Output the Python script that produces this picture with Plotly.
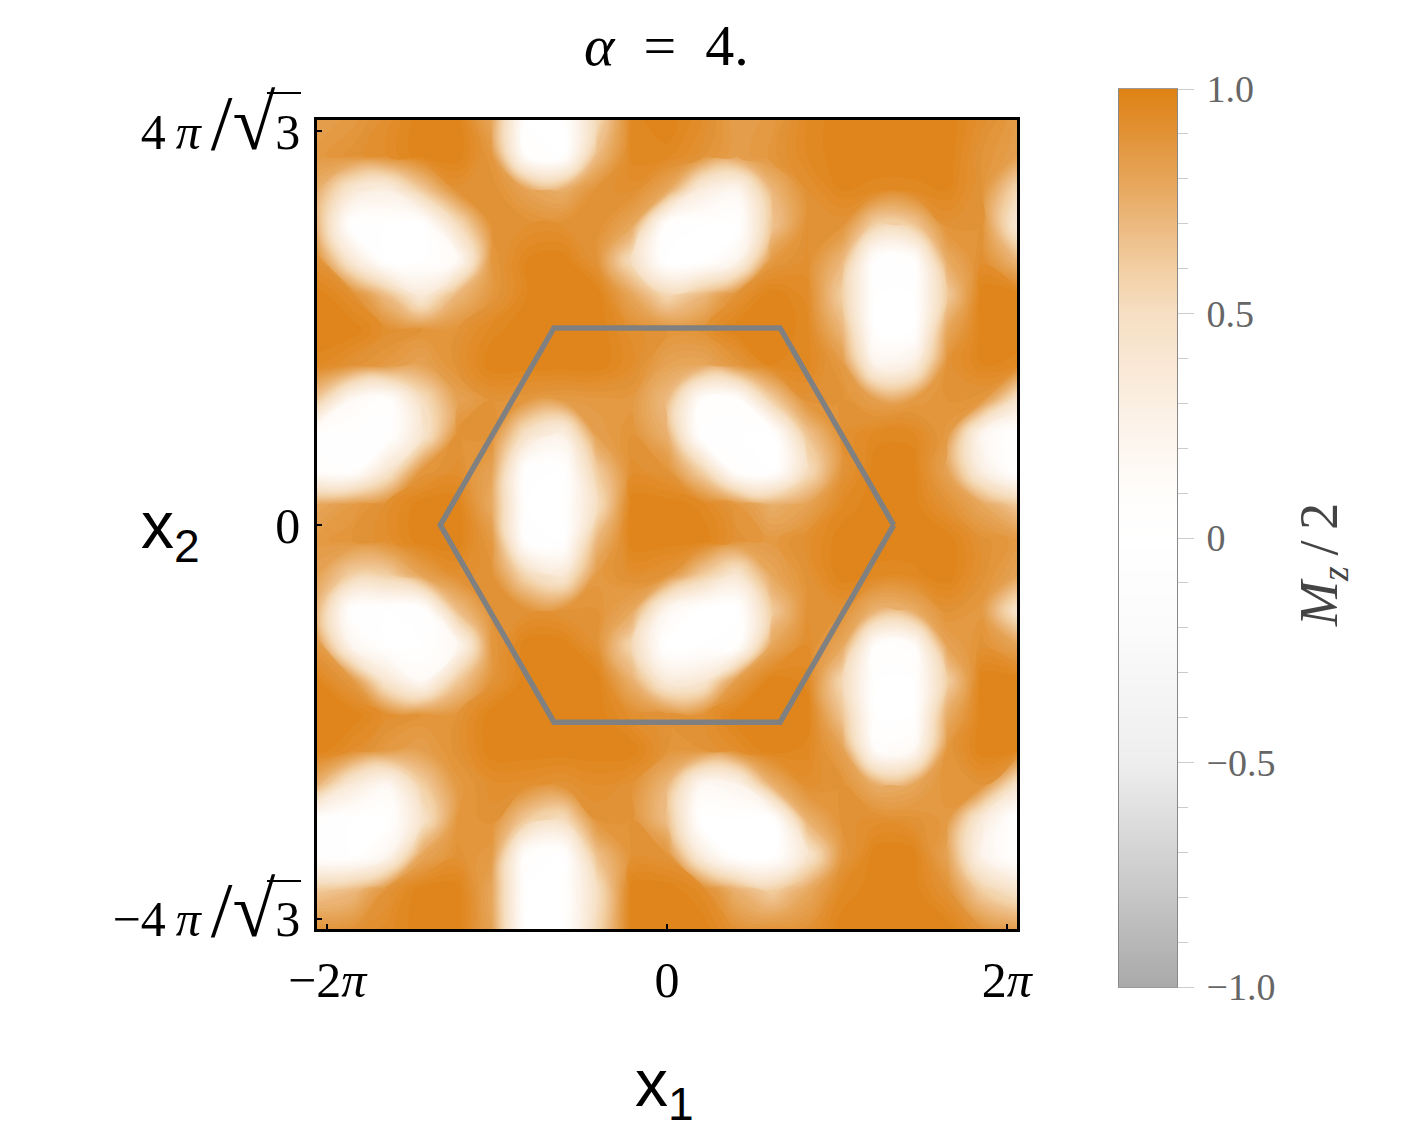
"""Magnetisation map M_z/2 at alpha = 4 with the hexagonal cell on top."""

import plotly.graph_objects as go

W, H = 1424, 1137

# grid positions of the map, in units of x1 and x2
x_grid = [-6.47, -5.82, -5.18, -4.53, -3.88, -3.24, -2.59, -1.94, -1.29, -0.65, 0.0,
          0.65, 1.29, 1.94, 2.59, 3.24, 3.88, 4.53, 5.18, 5.82, 6.47]
y_grid = [7.46, 6.81, 6.17, 5.52, 4.88, 4.24, 3.59, 2.95, 2.30, 1.66, 1.01, 0.37,
          -0.28, -0.92, -1.57, -2.21, -2.86, -3.50, -4.14, -4.79, -5.43, -6.08, -6.72, -7.44]

# M_z/2, one row per y_grid entry
mz_rows = [
    [.84, .87, .93, 1.0, 1.0, .80, .02, .02, .55, .97, 1.0, .94, .84, .87, .96, 1.0, 1.0, 1.0, 1.0, .93, .86],
    [.87, .91, .94, 1.0, 1.0, .88, .08, .02, .70, .97, .97, .91, .84, .89, .96, 1.0, 1.0, 1.0, 1.0, .90, .84],
    [.76, .40, .30, .62, .91, .92, .82, .76, .91, .93, .80, .32, .20, .72, .92, .98, .97, .97, .98, .90, .55],
    [.72, .03, .02, .02, .50, .91, .92, .92, .92, .80, .05, .02, .02, .65, .92, .90, .58, .62, .91, .90, .40],
    [.91, .38, .02, .02, .15, .88, .98, 1.0, .90, .50, .02, .02, .22, .87, .93, .72, .03, .05, .78, .93, .72],
    [1.0, .93, .68, .36, .72, .88, .98, 1.0, 1.0, .80, .55, .70, .91, 1.0, .95, .60, .02, .02, .62, 1.0, 1.0],
    [1.0, 1.0, .93, .90, .90, .97, 1.0, 1.0, 1.0, .93, .90, .91, 1.0, 1.0, .97, .72, .02, .02, .80, 1.0, 1.0],
    [.97, .91, .87, .82, .91, 1.0, 1.0, 1.0, 1.0, .94, .82, .80, .88, .98, .97, .87, .24, .30, .91, .98, .97],
    [.62, .15, .05, .50, .82, .90, .88, .86, .87, .87, .70, .08, .06, .60, .91, .90, .84, .86, .90, .88, .45],
    [.02, .02, .02, .42, .90, .91, .45, .27, .84, .90, .75, .02, .02, .02, .65, .92, .97, .97, .87, .20, .02],
    [.06, .04, .40, .88, .93, .82, .03, .02, .62, .93, .90, .58, .05, .02, .50, .90, 1.0, 1.0, .82, .30, .02],
    [.80, .86, .93, 1.0, 1.0, .78, .02, .02, .50, 1.0, 1.0, .97, .88, .76, .82, .96, 1.0, 1.0, .91, .80, .64],
    [.87, .90, .93, 1.0, 1.0, .87, .04, .02, .72, 1.0, 1.0, 1.0, .91, .87, .93, 1.0, 1.0, 1.0, 1.0, .91, .87],
    [.82, .60, .60, .82, .93, .91, .54, .38, .87, .93, .90, .62, .42, .80, .91, 1.0, .97, .97, 1.0, .91, .82],
    [.72, .04, .02, .03, .68, .91, .91, .90, .90, .80, .20, .02, .02, .62, .91, .91, .74, .77, .91, .87, .45],
    [.87, .20, .02, .02, .18, .88, 1.0, 1.0, .91, .55, .02, .02, .05, .80, .94, .80, .08, .10, .82, .91, .82],
    [.98, .87, .40, .15, .62, .90, 1.0, 1.0, 1.0, .75, .35, .38, .85, 1.0, .97, .55, .02, .02, .60, 1.0, 1.0],
    [1.0, 1.0, .93, .90, .90, 1.0, 1.0, 1.0, 1.0, .93, .90, .91, 1.0, 1.0, 1.0, .65, .02, .02, .77, 1.0, 1.0],
    [1.0, .94, .87, .84, .91, 1.0, 1.0, 1.0, 1.0, 1.0, .90, .90, .94, 1.0, .97, .83, .10, .15, .88, 1.0, 1.0],
    [.74, .35, .18, .60, .87, .93, .93, .91, .94, .91, .72, .17, .22, .75, .93, .90, .77, .80, .90, .90, .45],
    [.05, .02, .02, .45, .88, .91, .62, .50, .90, .90, .68, .02, .02, .02, .75, .91, .93, .91, .87, .35, .02],
    [.03, .02, .20, .80, .91, .86, .06, .02, .68, .91, .90, .32, .02, .02, .42, .88, 1.0, 1.0, .82, .25, .02],
    [.63, .69, .90, 1.0, 1.0, .80, .02, .02, .50, 1.0, 1.0, .95, .74, .60, .78, .96, 1.0, 1.0, .91, .60, .44],
    [.90, .91, .95, 1.0, 1.0, .82, .02, .02, .55, 1.0, 1.0, 1.0, .91, .90, .91, 1.0, 1.0, 1.0, 1.0, .90, .84],
]

# hexagonal cell outline
hex_x = [4.19, 2.09, -2.09, -4.19, -2.09, 2.09, 4.19]
hex_y = [0.0, 3.63, 3.63, 0.0, -3.63, -3.63, 0.0]

# axis ticks
BIG = "<span style='font-size:78px'>"
x_ticks = [-6.283, 0, 6.283]
x_tick_labels = ["−2<i>π</i>", "0", "2<i>π</i>"]
y_ticks = [-7.255, 0, 7.255]
y_tick_labels = [
    f"−4\u2009<i>π</i>\u2009{BIG}/√</span>3",
    "0",
    f"4\u2009<i>π</i>\u2009{BIG}/√</span>3",
]

# colour bar
bar_levels = [-1.0, -0.9, -0.8, -0.7, -0.6, -0.5, -0.4, -0.3, -0.2, -0.1, 0.0,
              0.1, 0.2, 0.3, 0.4, 0.5, 0.6, 0.7, 0.8, 0.9, 1.0]
bar_ticks = [-1.0, -0.5, 0, 0.5, 1.0]
bar_tick_labels = ["−1.0", "−0.5", "0", "0.5", "1.0"]
bar_minor = [-0.9, -0.8, -0.7, -0.6, -0.4, -0.3, -0.2, -0.1, 0.1, 0.2, 0.3, 0.4, 0.6, 0.7, 0.8, 0.9]

COLORSCALE = [
    [0.0, "#a9a9a9"],
    [0.1, "#c6c6c6"],
    [0.25, "#eeeeee"],
    [0.4, "#fbfbfb"],
    [0.5, "#ffffff"],
    [0.55, "#fffdfb"],
    [0.625, "#fcf3ea"],
    [0.75, "#f6dfc3"],
    [0.8, "#f2cfa3"],
    [0.85, "#ecb97f"],
    [0.9, "#e6a558"],
    [0.95, "#e29236"],
    [1.0, "#df8214"],
]

SERIF = "Liberation Serif"
SANS = "Liberation Sans"


def px(x):
    return x / W


def py(y):
    return 1 - y / H


def label(x, y, text, family, size, color="black", angle=0):
    return dict(
        x=px(x), y=py(y), xref="paper", yref="paper", showarrow=False,
        xanchor="center", yanchor="middle", textangle=angle,
        text=text, font=dict(family=family, size=size, color=color),
    )


def radical_bar(y):
    # the bar over the 3 in the y tick labels
    return dict(
        type="line", xref="paper", yref="paper",
        x0=px(267), x1=px(301), y0=py(y), y1=py(y),
        line=dict(color="black", width=2),
    )


fig = go.Figure()

fig.add_trace(
    go.Contour(
        x=x_grid,
        y=y_grid,
        z=mz_rows,
        colorscale=COLORSCALE,
        showscale=False,
        autocontour=False,
        contours=dict(start=-1.0, end=1.0, size=0.02, coloring="fill", showlines=False),
        line=dict(width=0, smoothing=1.3),
    )
)

fig.add_trace(
    go.Scatter(
        x=hex_x,
        y=hex_y,
        mode="lines",
        line=dict(color="#808080", width=5.5),
        showlegend=False,
        hoverinfo="skip",
    )
)

fig.add_trace(
    go.Heatmap(
        x=[0, 1],
        y=bar_levels,
        z=[[v, v] for v in bar_levels],
        zmin=-1,
        zmax=1,
        zsmooth="best",
        colorscale=COLORSCALE,
        showscale=False,
        xaxis="x2",
        yaxis="y2",
    )
)

fig.update_layout(
    width=W,
    height=H,
    margin=dict(l=0, r=0, t=0, b=0, autoexpand=False),
    paper_bgcolor="white",
    plot_bgcolor="white",
    showlegend=False,
    xaxis=dict(
        domain=[px(317), px(1017)],
        range=[-6.47, 6.47],
        tickvals=x_ticks,
        ticktext=x_tick_labels,
        ticks="inside",
        ticklen=5,
        tickwidth=2,
        tickcolor="black",
        showline=True,
        mirror=True,
        linecolor="black",
        linewidth=2.5,
        showgrid=False,
        zeroline=False,
        ticklabelstandoff=5,
        tickfont=dict(family=SERIF, size=50, color="black"),
    ),
    yaxis=dict(
        domain=[py(929), py(120)],
        range=[-7.44, 7.46],
        tickvals=y_ticks,
        ticktext=y_tick_labels,
        ticks="inside",
        ticklen=5,
        tickwidth=2,
        tickcolor="black",
        showline=True,
        mirror=True,
        linecolor="black",
        linewidth=2.5,
        showgrid=False,
        zeroline=False,
        ticklabelstandoff=4,
        tickfont=dict(family=SERIF, size=50, color="black"),
    ),
    xaxis2=dict(
        domain=[px(1119), px(1177)],
        range=[0, 1],
        anchor="y2",
        showticklabels=False,
        ticks="",
        showgrid=False,
        zeroline=False,
        showline=True,
        mirror=True,
        linecolor="#999999",
        linewidth=1,
    ),
    yaxis2=dict(
        domain=[py(987), py(89)],
        range=[-1, 1],
        anchor="x2",
        side="right",
        tickvals=bar_ticks,
        ticktext=bar_tick_labels,
        ticks="outside",
        ticklen=16,
        tickwidth=1,
        tickcolor="#cccccc",
        minor=dict(tickvals=bar_minor, ticks="outside", ticklen=10, tickwidth=1, tickcolor="#cccccc"),
        showgrid=False,
        zeroline=False,
        showline=True,
        mirror=True,
        linecolor="#888888",
        linewidth=1,
        ticklabelstandoff=5,
        tickfont=dict(family=SERIF, size=38, color="#666666"),
    ),
    annotations=[
        label(666, 45, "<i>α</i>\u2002=\u20024.", SERIF, 58),
        label(664, 1088, "x<sub>1</sub>", SANS, 66),
        label(170, 530, "x<sub>2</sub>", SANS, 66),
        label(1322, 565, "<i>M<sub>z</sub></i>\u2009/\u20092", SERIF, 54, color="#444444", angle=-90),
    ],
    shapes=[radical_bar(93), radical_bar(881)],
)

# page margin off so the figure sits at the window corner
fig.write_html(
    "out.html",
    config=dict(displayModeBar=False),
    post_script="document.body.style.margin='0';",
)
